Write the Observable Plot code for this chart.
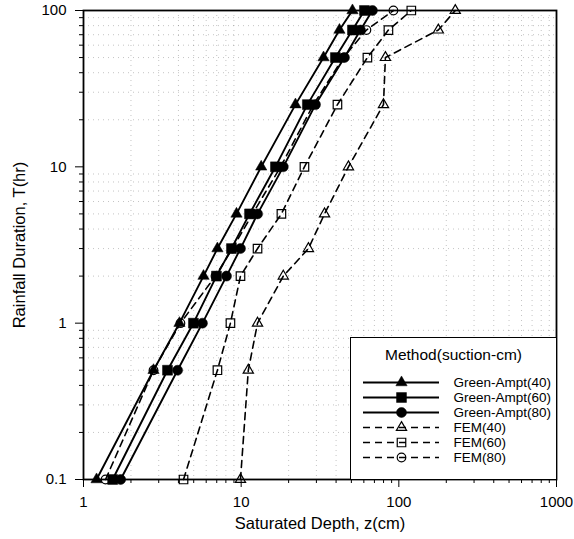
<!DOCTYPE html>
<html><head><meta charset="utf-8">
<script src="https://cdn.jsdelivr.net/npm/d3@7"></script>
<script src="https://cdn.jsdelivr.net/npm/@observablehq/plot@0.6"></script>
<style>
body{margin:0;background:#fff;font-family:"Liberation Sans",Arial,sans-serif;}
#wrap{position:relative;width:574px;height:539px;}
#legend{position:absolute;left:350px;top:337px;}
</style></head><body>
<div id="wrap"><div id="chart"></div><div id="legend"></div></div>
<script>
// Rainfall duration T (hr)
const T = [0.1, 0.5, 1, 2, 3, 5, 10, 25, 50, 75, 100];
// Saturated depth z (cm) per series
const ga40  = [1.21, 2.78, 4.06, 5.77, 7.07, 9.34, 13.4, 22.1, 33.3, 42.0, 50.8];
const ga60  = [1.53, 3.41, 4.98, 6.97, 8.68, 11.3, 16.5, 26.3, 39.6, 50.8, 60.5];
const ga80  = [1.72, 3.95, 5.68, 8.07, 9.90, 12.7, 18.5, 29.6, 45.2, 57.1, 68.0];
const fem40 = [9.9, 11.1, 12.7, 18.5, 26.7, 33.8, 47.9, 79.9, 82.2, 178, 228];
const fem60 = [4.31, 7.07, 8.55, 9.9, 12.7, 18.0, 25.2, 40.8, 63.2, 85.9, 120];
const fem80 = [1.38, 2.78, 4.12, 6.87, 8.81, 11.8, 17.8, 28.7, 44.5, 62.3, 92.4];

const seriesNames = ["Green-Ampt(40)", "Green-Ampt(60)", "Green-Ampt(80)", "FEM(40)", "FEM(60)", "FEM(80)"];
const seriesValues = [ga40, ga60, ga80, fem40, fem60, fem80];
const seriesSymbols = ["triangle", "square", "circle", "triangle", "square", "circle"];
const seriesDashed = [false, false, false, true, true, true];

const xMajor = [1, 10, 100, 1000];
const yMajor = [0.1, 1, 10, 100];
const xMinor = [2,3,4,5,6,7,8,9,20,30,40,50,60,70,80,90,200,300,400,500,600,700,800,900];
const yMinor = [0.2,0.3,0.4,0.5,0.6,0.7,0.8,0.9,2,3,4,5,6,7,8,9,20,30,40,50,60,70,80,90];

const xTitle = "Saturated Depth, z(cm)";
const yTitle = "Rainfall Duration, T(hr)";
const legendTitle = "Method(suction-cm)";

const rows = seriesNames.flatMap((name, k) => T.map((t, i) => ({series: name, k, T: t, z: seriesValues[k][i]})));
const symR = {triangle: 4.2, square: 5.6, circle: 5.0};
const symROpen = {triangle: 3.8, square: 4.8, circle: 4.3};

function dotMarks(data, xk, yk) {
  return seriesNames.map((name, k) => {
    const d = data.filter(r => r.series === name);
    const sym = seriesSymbols[k];
    return seriesDashed[k]
      ? Plot.dot(d, {x: xk, y: yk, symbol: sym, r: symROpen[sym], fill: "none", stroke: "black", strokeWidth: 1.2})
      : Plot.dot(d, {x: xk, y: yk, symbol: sym, r: symR[sym], fill: "black", stroke: "black", strokeWidth: 0.5});
  });
}

const chart = Plot.plot({
  width: 574, height: 539,
  marginLeft: 83, marginRight: 18, marginTop: 10, marginBottom: 60,
  style: {fontFamily: "'Liberation Sans', Arial, sans-serif", fontSize: "14.5px", color: "black", background: "white"},
  x: {type: "log", domain: [1, 1000]},
  y: {type: "log", domain: [0.1, 100]},
  marks: [
    Plot.gridX(xMinor, {stroke: "#555", strokeOpacity: 0.35, strokeDasharray: "1,4"}),
    Plot.gridY(yMinor, {stroke: "#555", strokeOpacity: 0.35, strokeDasharray: "1,4"}),
    Plot.line(rows.filter(r => !seriesDashed[r.k]), {x: "z", y: "T", z: "series", stroke: "black", strokeWidth: 1.9}),
    Plot.line(rows.filter(r => seriesDashed[r.k]), {x: "z", y: "T", z: "series", stroke: "black", strokeWidth: 1.6, strokeDasharray: "7,5"}),
    ...dotMarks(rows, "z", "T"),
    Plot.axisX({ticks: xMajor, tickSize: 8, tickPadding: 9, tickFormat: d => String(d), label: null, fontSize: 15}),
    Plot.axisX({ticks: xMinor, tickSize: 4, tickFormat: () => "", label: null}),
    Plot.axisY({ticks: yMajor, tickSize: 8, tickPadding: 9, tickFormat: d => String(d), label: null, fontSize: 15}),
    Plot.axisY({ticks: yMinor, tickSize: 4, tickFormat: () => "", label: null}),
    Plot.frame({stroke: "black", strokeWidth: 1.8}),
    Plot.text([xTitle], {text: d => d, frameAnchor: "bottom", dy: 44, lineAnchor: "middle", textAnchor: "middle", fontSize: 16.5}),
    Plot.text([yTitle], {text: d => d, frameAnchor: "left", dx: -64, rotate: -90, textAnchor: "middle", lineAnchor: "middle", fontSize: 16.5})
  ]
});
document.getElementById("chart").appendChild(chart);

// Legend
const legRows = seriesNames.map((name, k) => ({series: name, k}));
const legDots = seriesNames.map((name, k) => ({series: name, k, x: 0.5}));
const legend = Plot.plot({
  width: 206, height: 142, margin: 0,
  style: {fontFamily: "'Liberation Sans', Arial, sans-serif", fontSize: "13.5px", color: "black", background: "white"},
  x: {type: "linear", domain: [0, 1], range: [13, 89], axis: null},
  y: {type: "point", domain: seriesNames, range: [36, 128], axis: null},
  marks: [
    Plot.frame({stroke: "black", strokeWidth: 1}),
    Plot.ruleY(legRows.filter(r => !seriesDashed[r.k]), {y: "series", x1: 0, x2: 1, stroke: "black", strokeWidth: 1.9}),
    Plot.ruleY(legRows.filter(r => seriesDashed[r.k]), {y: "series", x1: 0, x2: 1, stroke: "black", strokeWidth: 1.6, strokeDasharray: "7,5"}),
    ...dotMarks(legDots, "x", "series"),
    Plot.text(legRows, {x: 1, y: "series", text: "series", dx: 14, textAnchor: "start", fontSize: 13.5}),
    Plot.text([legendTitle], {text: d => d, frameAnchor: "top", dy: 18, textAnchor: "middle", lineAnchor: "middle", fontSize: 15.5})
  ]
});
document.getElementById("legend").appendChild(legend);
</script>
</body></html>
